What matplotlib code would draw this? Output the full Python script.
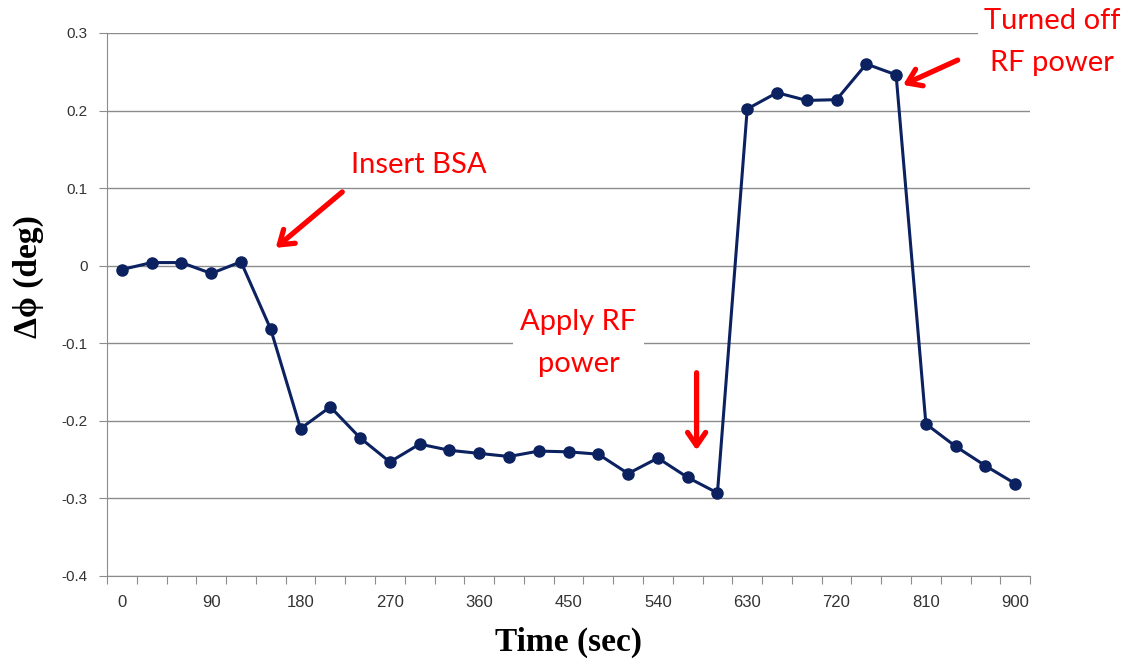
import numpy as np
import matplotlib
matplotlib.use("Agg")
import matplotlib.pyplot as plt

# data to plot
time_sec = np.arange(0, 901, 30)
dphi = [-0.005, 0.004, 0.004, -0.010, 0.005, -0.082, -0.210, -0.182, -0.222, -0.253,
        -0.230, -0.238, -0.242, -0.246, -0.239, -0.240, -0.243, -0.268, -0.248, -0.273,
        -0.293, 0.202, 0.223, 0.213, 0.214, 0.260, 0.246, -0.204, -0.233, -0.258,
        -0.281]
xtick_labels = ['0', '90', '180', '270', '360', '450', '540', '630', '720', '810', '900']

line_color = '#0b2160'
grid_color = '#8c8c8c'
note_font = 'Lato'

fig = plt.figure(figsize=(11.32, 6.59), dpi=100)
ax = fig.add_axes([0.0945, 0.126, 0.8155, 0.824])

ax.plot(time_sec, dphi, color=line_color, lw=2.2, marker='o', markersize=8,
        markerfacecolor=line_color, markeredgecolor=line_color, zorder=3)

ax.set_xlim(-15, 915)
ax.set_ylim(-0.4, 0.3)

# y axis
yt = np.round(np.arange(-0.4, 0.31, 0.1), 1)
ax.set_yticks(yt)
ax.set_yticklabels(['0' if v == 0 else f'{v:g}' for v in yt],
                   fontfamily='Liberation Sans', fontsize=11, color='#333333')
ax.yaxis.grid(True, color=grid_color, lw=1.0)
ax.set_axisbelow(True)

# x axis: tick marks between categories, labels every 90 s
ax.set_xticks(np.arange(-15, 916, 30))
ax.set_xticklabels([])
ax.set_xticks(np.arange(0, 901, 90), minor=True)
ax.set_xticklabels(xtick_labels, minor=True, fontfamily='Liberation Sans',
                   fontsize=12, color='#333333')
ax.tick_params(axis='x', which='major', direction='out', length=6, color=grid_color)
ax.tick_params(axis='x', which='minor', length=0, pad=14)
ax.tick_params(axis='y', direction='out', length=6, color=grid_color, pad=8)

for s in ['top', 'right']:
    ax.spines[s].set_visible(False)
for s in ['left', 'bottom']:
    ax.spines[s].set_color(grid_color)

ax.set_xlabel('Time (sec)', fontfamily='Liberation Serif', fontweight='bold',
              fontsize=24, labelpad=12)
ax.set_ylabel('\u0394\u03d5 (deg)', fontfamily='Liberation Serif', fontweight='bold',
              fontsize=24)
ax.yaxis.set_label_coords(-0.068, 0.551)

# annotations
arrow = dict(arrowstyle='->,head_length=0.95,head_width=0.65', color='#ff0000',
             lw=3.8, shrinkA=0, shrinkB=0)

ax.text(299, 0.130, 'Insert BSA', color='#ff0000', fontsize=21,
        fontfamily=note_font, ha='center', va='center')
ax.annotate('', xy=(155, 0.023), xytext=(222, 0.095), arrowprops=arrow)

ax.text(460, -0.100, 'Apply RF\npower', color='#ff0000', fontsize=21,
        fontfamily=note_font, ha='center', va='center', linespacing=1.75,
        bbox=dict(boxstyle='square,pad=0.25', fc='white', ec='none'), zorder=4)
ax.annotate('', xy=(579, -0.238), xytext=(579, -0.138), arrowprops=arrow)

ax.text(937, 0.288, 'Turned off\nRF power', color='#ff0000', fontsize=21,
        fontfamily=note_font, ha='center', va='center', linespacing=1.75,
        bbox=dict(boxstyle='square,pad=0.2', fc='white', ec='none'),
        zorder=4, clip_on=False)
ax.annotate('', xy=(787, 0.233), xytext=(842, 0.265), arrowprops=arrow)

fig.savefig('out.png', dpi=100)
